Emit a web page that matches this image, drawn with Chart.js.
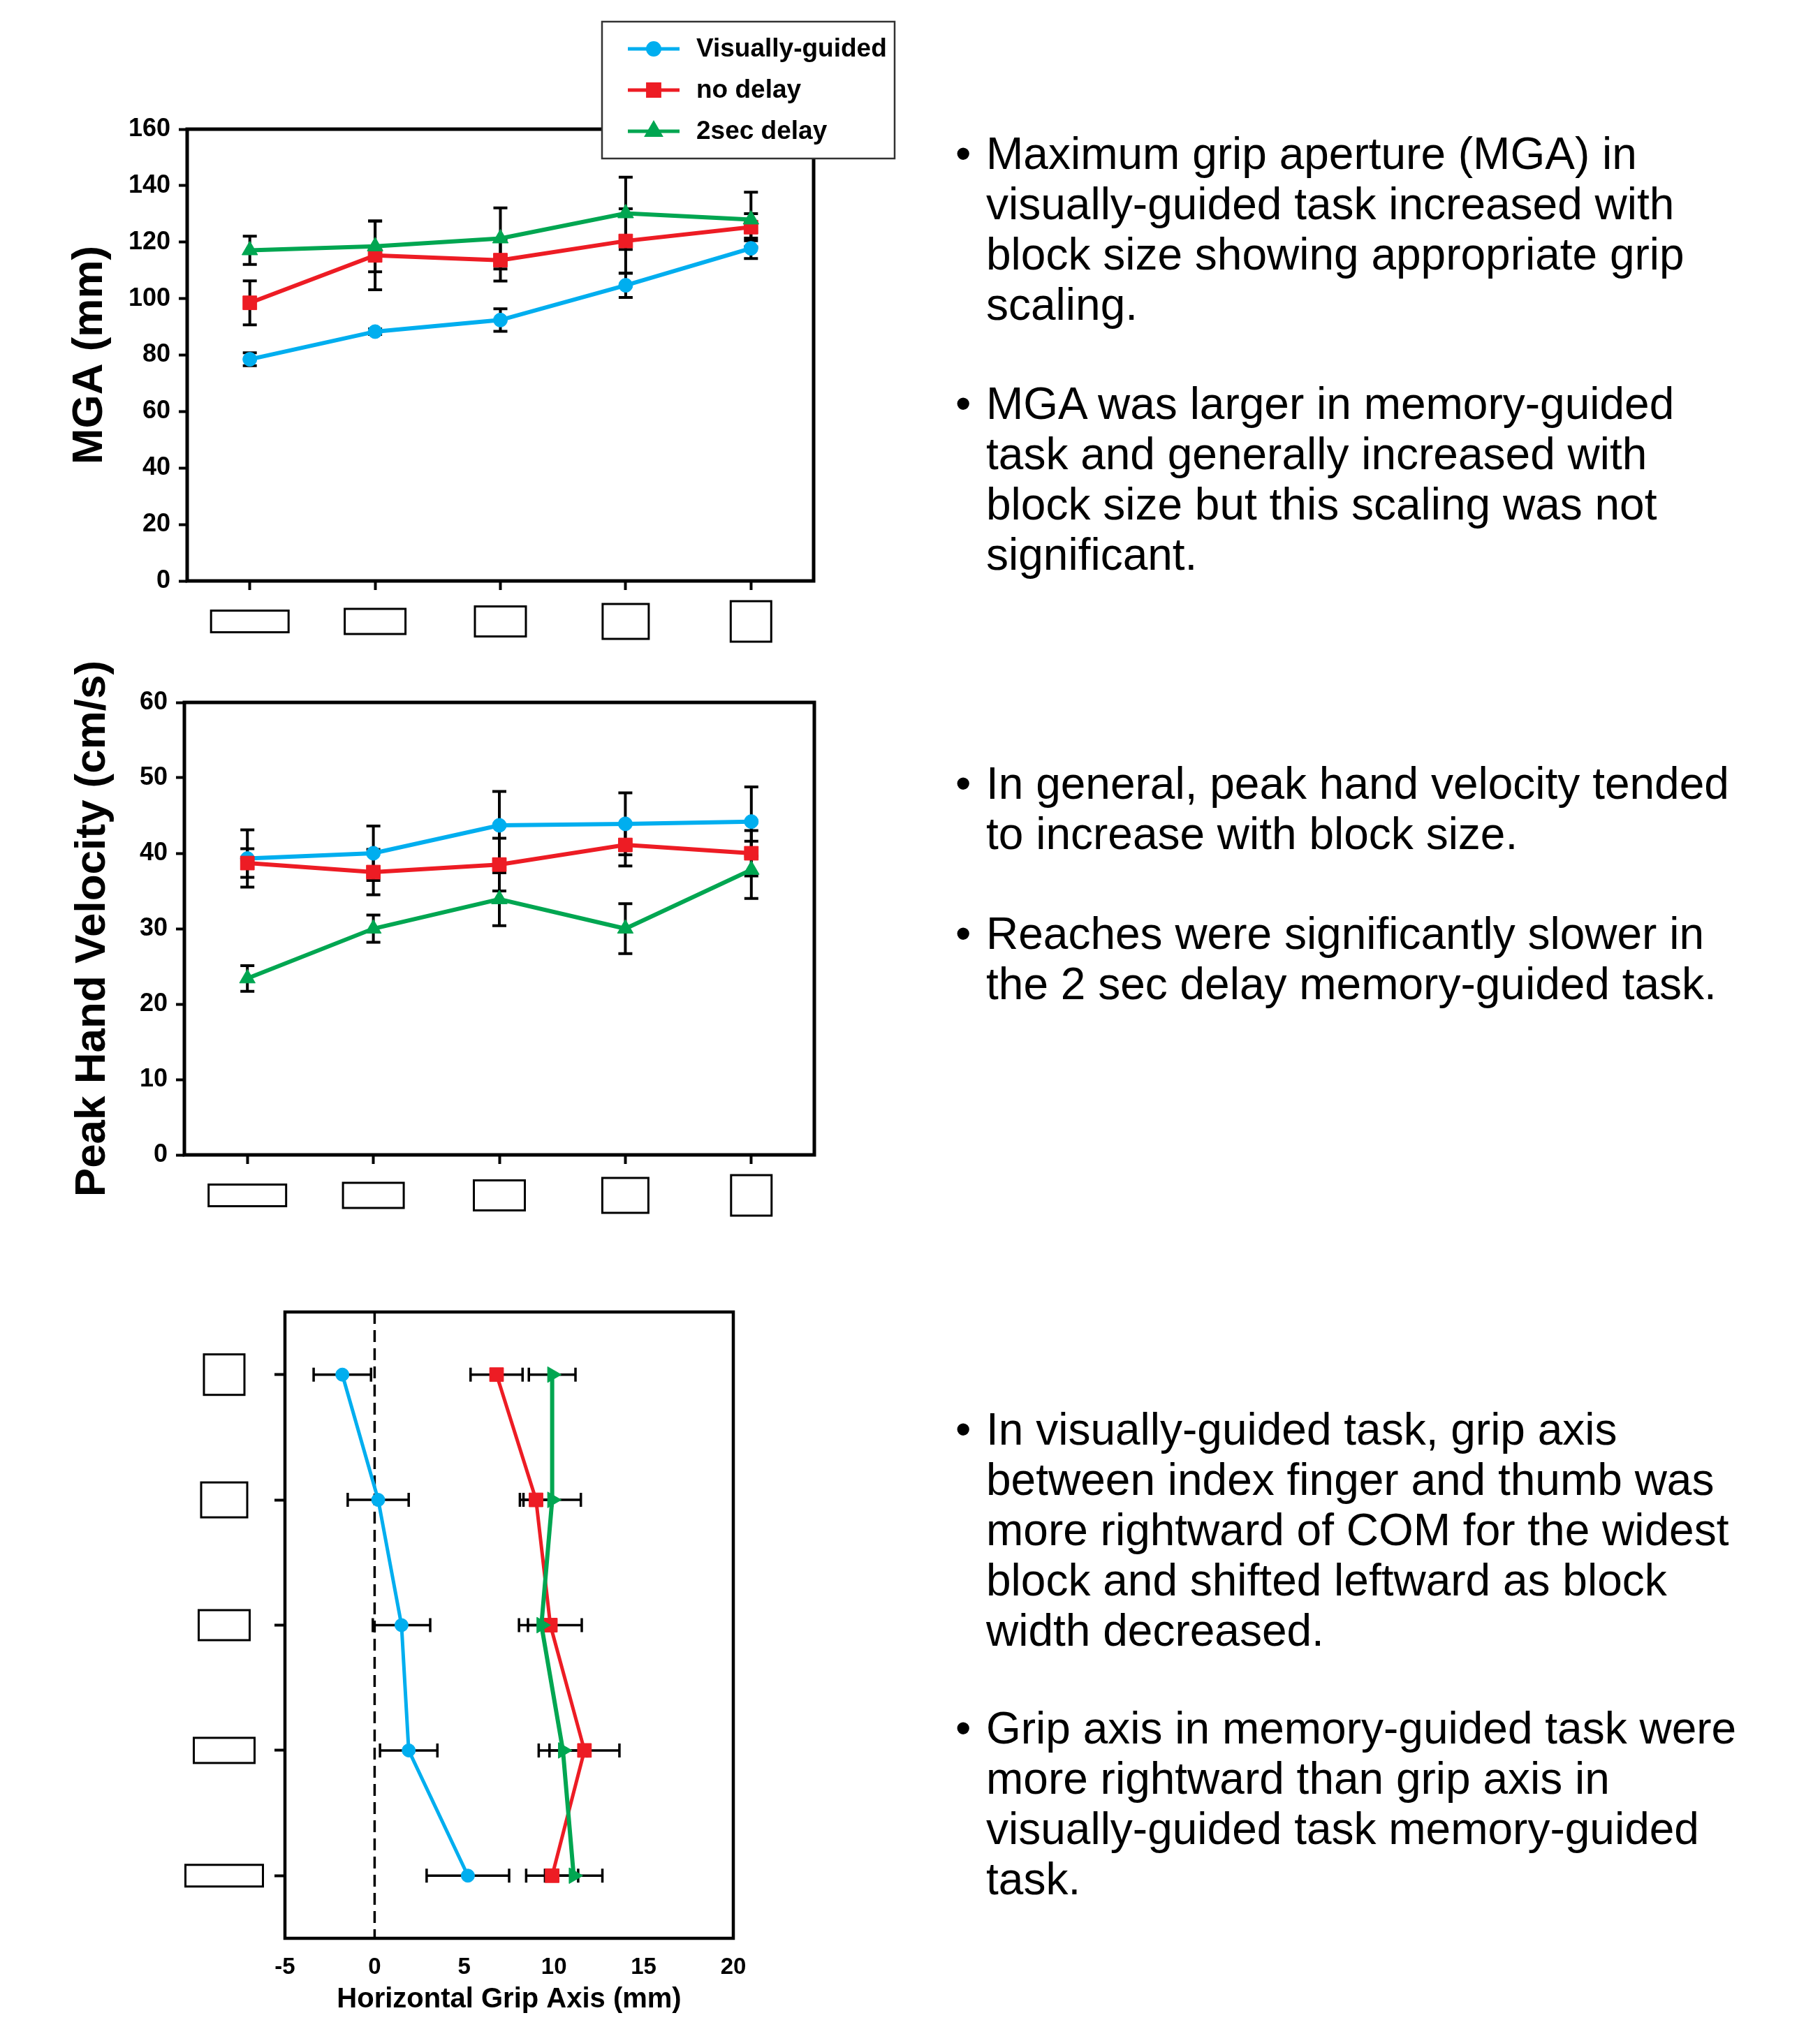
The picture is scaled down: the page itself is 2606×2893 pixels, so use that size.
<!DOCTYPE html>
<html lang="en">
<head>
<meta charset="UTF-8">
<title>Grip aperture, hand velocity and grip axis</title>
<script src="https://cdn.jsdelivr.net/npm/chart.js"></script>
<style>
  html, body { margin: 0; padding: 0; background: #fff; }
  body { position: relative; width: 2606px; height: 2893px; overflow: hidden;
         font-family: 'Liberation Sans', Arial, sans-serif; color: #000; }
  canvas { position: absolute; left: 0; }
  #mgaChart { top: 0; }
  #velChart { top: 900px; }
  #gripChart { top: 1840px; }
  .note { position: absolute; left: 1412px; font-size: 64px; line-height: 72px; white-space: nowrap; }
  .note::before { content: '\2022'; position: absolute; left: -44px; }
</style>
</head>
<body>
<canvas id="mgaChart" width="1320" height="960"></canvas>
<canvas id="velChart" width="1320" height="880"></canvas>
<canvas id="gripChart" width="1150" height="1053"></canvas>

<div class="note" style="top:184px">Maximum grip aperture (MGA) in<br>visually-guided task increased with<br>block size showing appropriate grip<br>scaling.</div>
<div class="note" style="top:542px">MGA was larger in memory-guided<br>task and generally increased with<br>block size but this scaling was not<br>significant.</div>
<div class="note" style="top:1086px">In general, peak hand velocity tended<br>to increase with block size.</div>
<div class="note" style="top:1301px">Reaches were significantly slower in<br>the 2 sec delay memory-guided task.</div>
<div class="note" style="top:2011px">In visually-guided task, grip axis<br>between index finger and thumb was<br>more rightward of COM for the widest<br>block and shifted leftward as block<br>width decreased.</div>
<div class="note" style="top:2439px">Grip axis in memory-guided task were<br>more rightward than grip axis in<br>visually-guided task memory-guided<br>task.</div>

<script>
// blocks, widest first
const blocks = ['block 1', 'block 2', 'block 3', 'block 4', 'block 5'];

// maximum grip aperture (mm), mean and error
const mgaVisual = [78.5, 88.3, 92.4, 104.7, 117.8];
const mgaVisualErr = [2.3, 1.0, 4.0, 4.3, 3.6];
const mgaNoDelay = [98.5, 115.3, 113.6, 120.4, 125.3];
const mgaNoDelayErr = [7.8, 12.2, 7.4, 11.4, 4.8];
const mgaDelay2 = [117.1, 118.5, 121.3, 130.2, 128.0];
const mgaDelay2Err = [5.0, 9.0, 10.8, 12.8, 9.7];

// peak hand velocity (cm/s)
const velVisual = [39.3, 40.0, 43.7, 43.9, 44.2];
const velVisualErr = [3.8, 3.6, 4.5, 4.1, 4.6];
const velNoDelay = [38.7, 37.5, 38.5, 41.1, 40.0];
const velNoDelayErr = [1.9, 3.0, 3.5, 2.8, 3.0];
const velDelay2 = [23.4, 30.0, 33.9, 30.0, 37.8];
const velDelay2Err = [1.7, 1.8, 3.5, 3.3, 3.8];

// horizontal grip axis (mm), same block order (widest at the bottom)
const gripVisual = [5.2, 1.9, 1.5, 0.2, -1.8];
const gripVisualErr = [2.3, 1.6, 1.6, 1.7, 1.6];
const gripNoDelay = [9.9, 11.7, 9.8, 9.0, 6.8];
const gripNoDelayErr = [1.45, 1.95, 1.75, 0.9, 1.45];
const gripDelay2 = [11.1, 10.5, 9.3, 9.9, 9.9];
const gripDelay2Err = [1.6, 1.35, 0.75, 1.6, 1.3];

const seriesNames = ['Visually-guided', 'no delay', '2sec delay'];

Chart.defaults.font.family = "'Liberation Sans', Arial, sans-serif";
Chart.defaults.color = '#000';
Chart.defaults.animation = false;

const BLUE = '#00AEEF', RED = '#ED1C24', GREEN = '#00A651';
// block icon outline sizes (px), same order as blocks
const iconW = [111, 87, 73, 66, 58];
const iconH = [31, 36, 43, 50, 58];

function series(label, data, err, color, style, radius, order, lineW, rotation) {
    return {
        label: label, data: data, err: err, order: order,
        borderColor: color, backgroundColor: color, borderWidth: lineW,
        pointStyle: style, pointRadius: radius, pointRotation: rotation || 0,
        pointBorderWidth: 1, pointBorderColor: color, pointBackgroundColor: color
    };
}

const errorBars = {
    id: 'errorBars',
    beforeDatasetsDraw(chart, args, o) {
        const ctx = chart.ctx;
        const vs = o.horizontal ? chart.scales.x : chart.scales.y;
        ctx.save();
        ctx.strokeStyle = '#000';
        ctx.lineWidth = o.width;
        chart.data.datasets.forEach((ds, di) => {
            const pts = chart.getDatasetMeta(di).data;
            ds.err.forEach((e, i) => {
                const p = pts[i];
                const v = o.horizontal ? ds.data[i].x : ds.data[i];
                const a = vs.getPixelForValue(v - e), b = vs.getPixelForValue(v + e);
                ctx.beginPath();
                if (o.horizontal) {
                    ctx.moveTo(a, p.y); ctx.lineTo(b, p.y);
                    ctx.moveTo(a, p.y - o.cap); ctx.lineTo(a, p.y + o.cap);
                    ctx.moveTo(b, p.y - o.cap); ctx.lineTo(b, p.y + o.cap);
                } else {
                    ctx.moveTo(p.x, a); ctx.lineTo(p.x, b);
                    ctx.moveTo(p.x - o.cap, a); ctx.lineTo(p.x + o.cap, a);
                    ctx.moveTo(p.x - o.cap, b); ctx.lineTo(p.x + o.cap, b);
                }
                ctx.stroke();
            });
        });
        ctx.restore();
    }
};

const frame = {
    id: 'frame',
    afterDatasetsDraw(chart, args, o) {
        const {ctx, chartArea: a} = chart;
        ctx.save();
        ctx.lineWidth = o.width;
        ctx.strokeStyle = '#000';
        ctx.strokeRect(a.left, a.top, a.right - a.left, a.bottom - a.top);
        ctx.restore();
    }
};

const blockIcons = {
    id: 'blockIcons',
    afterDraw(chart, args, o) {
        const {ctx, chartArea: a} = chart;
        ctx.save();
        ctx.strokeStyle = '#000';
        ctx.lineWidth = 3;
        blocks.forEach((b, i) => {
            let cx, cy;
            if (o.axis === 'x') {
                cx = chart.scales.x.getPixelForValue(i);
                cy = a.bottom + o.offset;
            } else {
                cx = a.left - o.offset;
                cy = chart.scales.y.getPixelForValue(i);
            }
            ctx.strokeRect(cx - iconW[i] / 2, cy - iconH[i] / 2, iconW[i], iconH[i]);
        });
        ctx.restore();
    }
};

const zeroLine = {
    id: 'zeroLine',
    beforeDatasetsDraw(chart) {
        const {ctx, chartArea: a} = chart;
        const x = chart.scales.x.getPixelForValue(0);
        ctx.save();
        ctx.setLineDash([17, 9]);
        ctx.lineWidth = 3.5;
        ctx.strokeStyle = '#000';
        ctx.beginPath();
        ctx.moveTo(x, a.top);
        ctx.lineTo(x, a.bottom);
        ctx.stroke();
        ctx.restore();
    }
};

// boxed legend sitting over the top right corner of the first plot
const boxLegend = {
    id: 'boxLegend',
    afterDraw(chart, args, o) {
        const ctx = chart.ctx;
        ctx.save();
        ctx.fillStyle = '#fff';
        ctx.fillRect(o.left, o.top, o.width, o.height);
        ctx.lineWidth = 2.5;
        ctx.strokeStyle = '#333';
        ctx.strokeRect(o.left, o.top, o.width, o.height);
        ctx.font = 'bold 37px "Liberation Sans", Arial, sans-serif';
        ctx.textBaseline = 'middle';
        chart.data.datasets.forEach((ds, i) => {
            const y = o.top + o.firstRow + i * o.rowGap;
            ctx.strokeStyle = ds.borderColor;
            ctx.fillStyle = ds.borderColor;
            ctx.lineWidth = 5;
            ctx.beginPath();
            ctx.moveTo(o.left + 37, y);
            ctx.lineTo(o.left + 111, y);
            ctx.stroke();
            Chart.helpers.drawPoint(ctx, {pointStyle: ds.pointStyle, radius: ds.pointRadius * 0.85, rotation: 0, borderWidth: 1}, o.left + 74, y);
            ctx.fillStyle = '#000';
            ctx.fillText(ds.label, o.left + 135, y + 1);
        });
        ctx.restore();
    }
};

function verticalChart(id, sets, yMax, yStep, title, L) {
    return new Chart(document.getElementById(id), {
        type: 'line',
        data: {labels: blocks, datasets: sets},
        options: {
            responsive: false,
            events: [],
            layout: {padding: {top: L.top, right: L.right, left: 0, bottom: 0}},
            plugins: {
                legend: {display: false},
                tooltip: {enabled: false},
                errorBars: {cap: 10, width: 4},
                frame: {width: 5},
                blockIcons: {axis: 'x', offset: 58},
                boxLegend: L.legend
            },
            scales: {
                x: {
                    type: 'category', offset: true,
                    grid: {drawOnChartArea: false, tickLength: 13, tickWidth: 4, tickColor: '#000'},
                    border: {display: false},
                    ticks: {display: false},
                    afterFit: s => { s.height = L.xHeight; }
                },
                y: {
                    min: 0, max: yMax,
                    ticks: {stepSize: yStep, padding: 12, font: {size: 36, weight: 'bold'}},
                    grid: {drawOnChartArea: false, tickLength: 12, tickWidth: 4, tickColor: '#000'},
                    border: {display: false},
                    title: {display: true, text: title, font: {size: 62, weight: 'bold'}, padding: {top: L.titlePad, bottom: 0}},
                    afterFit: s => { s.width = L.yWidth; }
                }
            }
        },
        plugins: [errorBars, frame, blockIcons, boxLegend]
    });
}

verticalChart('mgaChart', [
    series(seriesNames[0], mgaVisual, mgaVisualErr, BLUE, 'circle', 10, 3, 6),
    series(seriesNames[1], mgaNoDelay, mgaNoDelayErr, RED, 'rect', 14, 2, 6),
    series(seriesNames[2], mgaDelay2, mgaDelay2Err, GREEN, 'triangle', 13, 1, 6)
], 160, 20, 'MGA (mm)', {
    top: 185, right: 155, xHeight: 128, yWidth: 268, titlePad: 92,
    legend: {left: 862, top: 31, width: 419, height: 196, firstRow: 39, rowGap: 59}
});

verticalChart('velChart', [
    series(seriesNames[0], velVisual, velVisualErr, BLUE, 'circle', 10, 3, 6),
    series(seriesNames[1], velNoDelay, velNoDelayErr, RED, 'rect', 14, 2, 6),
    series(seriesNames[2], velDelay2, velDelay2Err, GREEN, 'triangle', 13, 1, 6)
], 60, 10, 'Peak Hand Velocity (cm/s)', {
    top: 106, right: 154, xHeight: 126, yWidth: 264, titlePad: 96, legend: false
});

const toPoints = vals => vals.map((v, i) => ({x: v, y: i}));

new Chart(document.getElementById('gripChart'), {
    type: 'line',
    data: {datasets: [
        series(seriesNames[0], toPoints(gripVisual), gripVisualErr, BLUE, 'circle', 9.5, 3, 5),
        series(seriesNames[1], toPoints(gripNoDelay), gripNoDelayErr, RED, 'rect', 14, 2, 5),
        series(seriesNames[2], toPoints(gripDelay2), gripDelay2Err, GREEN, 'triangle', 13, 1, 6, 90)
    ]},
    options: {
        indexAxis: 'y',
        responsive: false,
        events: [],
        layout: {padding: {top: 39, right: 100, left: 0, bottom: 0}},
        plugins: {
            legend: {display: false},
            tooltip: {enabled: false},
            errorBars: {cap: 10, width: 3.5, horizontal: true},
            frame: {width: 4.5},
            blockIcons: {axis: 'y', offset: 87}
        },
        scales: {
            x: {
                type: 'linear', min: -5, max: 20,
                ticks: {stepSize: 5, padding: 22, font: {size: 33, weight: 'bold'}},
                grid: {display: false, drawTicks: false},
                border: {display: false},
                title: {display: true, text: 'Horizontal Grip Axis (mm)', font: {size: 40, weight: 'bold'}, padding: {top: 0, bottom: 5}},
                afterFit: s => { s.height = 117; }
            },
            y: {
                type: 'linear', min: -0.5, max: 4.5,
                afterBuildTicks: s => { s.ticks = blocks.map((b, i) => ({value: i})); },
                ticks: {display: false},
                grid: {drawOnChartArea: false, tickLength: 15, tickWidth: 4, tickColor: '#000'},
                border: {display: false},
                afterFit: s => { s.width = 408; }
            }
        }
    },
    plugins: [zeroLine, errorBars, frame, blockIcons]
});
</script>
</body>
</html>
